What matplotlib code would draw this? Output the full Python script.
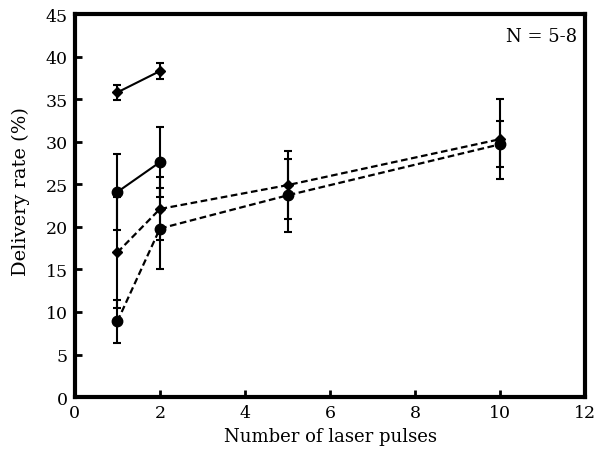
import matplotlib
matplotlib.use("Agg")
import matplotlib.pyplot as plt
import numpy as np

# number of laser pulses
pulses_short = [1, 2]
pulses_long = [1, 2, 5, 10]

# solid lines
diam_solid = [35.8, 38.3]
diam_solid_err = [0.9, 0.9]
circ_solid = [24.1, 27.6]
circ_solid_err = [4.5, 4.1]

# dashed lines
diam_dash = [17.0, 22.1, 24.9, 30.3]
diam_dash_err = [6.5, 3.7, 4.0, 4.7]
circ_dash = [8.9, 19.8, 23.7, 29.7]
circ_dash_err = [2.5, 4.8, 4.3, 2.7]

plt.rcParams["font.family"] = "DejaVu Serif"

fig = plt.figure(figsize=(5.99, 4.56), dpi=100)
ax = fig.add_axes([0.125, 0.127, 0.852, 0.84])

style = dict(color="black", capsize=3, elinewidth=1.5, capthick=1.5)
ax.errorbar(pulses_short, diam_solid, yerr=diam_solid_err, fmt="-D", ms=5, lw=1.5, **style)
ax.errorbar(pulses_short, circ_solid, yerr=circ_solid_err, fmt="-o", ms=7.5, lw=1.5, **style)
ax.errorbar(pulses_long, diam_dash, yerr=diam_dash_err, fmt="D", ms=5, ls=(0, (3, 1.6)), lw=1.6, **style)
ax.errorbar(pulses_long, circ_dash, yerr=circ_dash_err, fmt="o", ms=7.5, ls=(0, (3, 1.6)), lw=1.6, **style)

ax.set_xlim(0, 12)
ax.set_ylim(0, 45)
ax.set_xticks(np.arange(0, 13, 2))
ax.set_yticks(np.arange(0, 46, 5))
for s in ax.spines.values():
    s.set_linewidth(3)
ax.tick_params(direction="in", length=5, width=2, labelsize=12.5, pad=5)

ax.set_xlabel("Number of laser pulses", fontsize=13)
ax.set_ylabel("Delivery rate (%)", fontsize=14)
ax.yaxis.set_label_coords(-0.088, 0.54)
ax.text(0.985, 0.965, "N = 5-8", transform=ax.transAxes, ha="right", va="top", fontsize=13)

fig.savefig("out.png", dpi=100)
